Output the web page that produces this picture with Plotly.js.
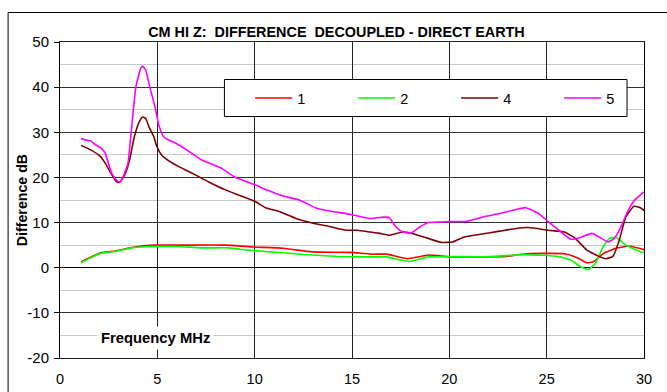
<!DOCTYPE html>
<html>
<head>
<meta charset="utf-8">
<script src="https://cdn.plot.ly/plotly-3.0.1.min.js"></script>
<style>html,body{margin:0;padding:0;background:#fff;}#chart{width:667px;height:392px;}</style>
</head>
<body>
<div id="chart"></div>
<script>
// Series 1 (red)
const x1 = [1.08,2.08,2.83,3.82,4.82,5.98,8.47,9.97,11.46,12.95,14.95,15.94,16.77,17.85,18.93,20.01,21.76,22.92,23.92,25.91,26.57,27.07,27.40,27.90,28.57,29.23,30];
const y1 = [1.3,3.3,3.7,4.6,5.0,5.0,5.0,4.6,4.3,3.5,3.4,3.0,3.0,2.0,2.8,2.4,2.4,2.5,3.1,3.1,2.2,1.1,1.3,3.1,4.3,4.8,4.0];
// Series 2 (green)
const x2 = [1.08,2.08,2.83,3.82,4.82,5.98,7.31,8.64,9.63,11.46,12.95,14.29,15.94,16.77,17.94,18.93,20.01,21.76,23.92,25.58,26.24,26.74,27.15,27.49,27.90,28.23,28.57,29.07,29.57,30];
const y2 = [1.1,3.2,3.6,4.5,4.7,4.7,4.4,4.4,3.9,3.3,2.8,2.5,2.4,2.4,1.4,2.4,2.5,2.4,2.9,2.5,1.7,0.2,-0.4,0.9,4.6,6.5,6.7,5.0,4.0,3.3];
// Series 4 (dark red)
const x4 = [1.08,1.58,2.08,2.33,2.58,2.9,3.07,3.32,3.57,3.82,4.07,4.24,4.40,4.57,4.82,4.98,5.23,5.65,6.06,6.81,7.64,8.47,9.30,10.05,10.55,11.29,12.12,12.95,13.79,14.70,15.28,15.94,16.44,16.94,17.60,18.10,18.77,19.60,20.18,20.76,21.59,22.59,23.42,24.08,25.08,25.91,26.41,27.07,27.74,28.07,28.40,28.73,29.07,29.48,29.81,30];
const y4 = [27.1,26.1,24.6,23.1,21.2,19.0,18.9,20.5,23.8,29.0,32.3,33.4,33.1,31.2,29.0,26.8,24.9,23.5,22.5,20.9,19.0,17.3,15.9,14.6,13.3,12.4,10.9,9.9,9.2,8.3,8.3,7.9,7.6,7.2,7.9,7.6,6.7,5.6,5.7,6.8,7.4,8.1,8.7,8.9,8.3,7.9,6.7,3.9,2.4,2.0,2.5,6.1,11.3,13.6,13.3,12.7];
// Series 5 (magenta)
const x5 = [1.08,1.33,1.58,1.83,2.08,2.33,2.49,2.66,2.9,3.07,3.24,3.49,3.65,3.9,4.15,4.24,4.40,4.65,4.9,5.07,5.32,5.57,5.98,6.64,7.31,8.31,8.97,10.05,10.63,11.46,12.29,13.12,13.79,14.95,15.94,16.61,16.94,17.19,17.52,17.85,18.10,18.44,18.93,20.01,20.93,21.76,22.59,23.42,23.92,24.58,25.08,25.75,26.24,26.74,27.32,27.74,28.15,28.48,28.81,29.15,29.48,30];
const y5 = [28.6,28.3,28.1,27.2,26.6,25.3,23.1,20.9,19.4,19.0,20.1,23.1,29.8,40.1,44.2,44.7,43.8,39.4,35.3,31.6,29.0,28.3,27.5,25.7,23.8,22.0,20.1,18.3,17.2,15.9,15.0,13.3,12.6,11.8,10.9,11.2,11.0,9.4,8.1,7.7,7.8,8.9,10.0,10.2,10.3,11.3,12.0,12.9,13.3,12.0,10.2,7.9,6.3,6.7,7.6,6.7,5.7,6.5,9.0,12.4,14.8,16.8];

const names = ['1','2','4','5'];
const colors = ['#ff0000','#00ff00','#800000','#ff00ff'];
const xs = [x1,x2,x4,x5];
const ys = [y1,y2,y4,y5];

// Axis tick labels
const yTickVals = [-20,-10,0,10,20,30,40,50];
const yTickText = ['-20','-10','0','10','20','30','40','50'];
const xTickVals = [0,5,10,15,20,25,30];
const xTickText = ['0','5','10','15','20','25','30'];

const FONT = 'Liberation Sans, Arial, sans-serif';
const traces = names.map((n,i)=>({
  type:'scatter', mode:'lines', name:n, x:xs[i], y:ys[i],
  line:{color:colors[i], width:1.6, shape:'spline', smoothing:0.4},
  cliponaxis:true
}));

const W=667, H=392, L=60, R=5, T=42, B=34;
const pw = W-L-R, ph = H-T-B;
const px = v => (v-L)/pw;           // pixel -> paper x
const py = v => (H-B-v)/ph;         // pixel -> paper y

const layout = {
  width:W, height:H,
  margin:{l:L, r:R, t:T, b:B},
  paper_bgcolor:'#ffffff', plot_bgcolor:'#ffffff',
  font:{family:FONT, size:14, color:'#000'},
  showlegend:true,
  legend:{orientation:'h', x:px(256), xanchor:'left', y:py(98), yanchor:'middle',
          bgcolor:'rgba(0,0,0,0)', borderwidth:0, font:{family:FONT,size:14.5,color:'#000'},
          itemwidth:37, entrywidth:51, entrywidthmode:'pixels'},
  title:{text:'CM HI Z:  DIFFERENCE  DECOUPLED - DIRECT EARTH', x:px(345), xref:'paper', xanchor:'center',
         y:1-32/H, yref:'container', yanchor:'middle', font:{family:FONT, size:14.4, color:'#000', weight:'bold'}},
  xaxis:{range:[0,30], tickmode:'array', tickvals:xTickVals, ticktext:xTickText,
         showgrid:true, gridcolor:'#222222', gridwidth:1,
         zeroline:false, showline:true, linecolor:'#222222', mirror:true,
         ticks:'', tickfont:{family:FONT,size:14.5}, ticklabelstandoff:8, fixedrange:true},
  yaxis:{range:[-20,50], tickmode:'array', tickvals:yTickVals, ticktext:yTickText,
         showgrid:true, gridcolor:'#333333', gridwidth:1,
         minor:{dtick:5, tick0:0, showgrid:true, gridcolor:'#c8c8c8', gridwidth:1, ticks:''},
         zeroline:true, zerolinecolor:'#000', zerolinewidth:1,
         showline:true, linecolor:'#000', mirror:true,
         ticks:'outside', ticklen:5, tickcolor:'#000', tickfont:{family:FONT,size:15}, ticklabelstandoff:2,
         fixedrange:true},
  shapes:[
    {type:'rect', xref:'paper', yref:'paper', x0:px(6.5), x1:px(700), y0:py(420), y1:py(12.5),
     line:{color:'#000', width:1}, fillcolor:'rgba(0,0,0,0)', layer:'below'},
    {type:'rect', xref:'paper', yref:'paper', x0:px(229.5), x1:px(644.5), y0:py(116.5), y1:py(79.5),
     line:{color:'#000', width:1}, fillcolor:'#ffffff', layer:'above'}
  ],
  annotations:[
    {text:'Difference dB', xref:'paper', yref:'paper', x:px(21), y:py(200), xanchor:'center', yanchor:'middle',
     textangle:-90, showarrow:false, font:{family:FONT,size:14.2,weight:'bold',color:'#000'}},
    {text:'Frequency MHz', xref:'paper', yref:'paper', x:px(158), y:py(338), xanchor:'center', yanchor:'middle',
     showarrow:false, bgcolor:'#ffffff', borderpad:3, font:{family:FONT,size:14.8,weight:'bold',color:'#000'}}
  ]
};

Plotly.newPlot('chart', traces, layout, {displayModeBar:false, staticPlot:true});
</script>
</body>
</html>
